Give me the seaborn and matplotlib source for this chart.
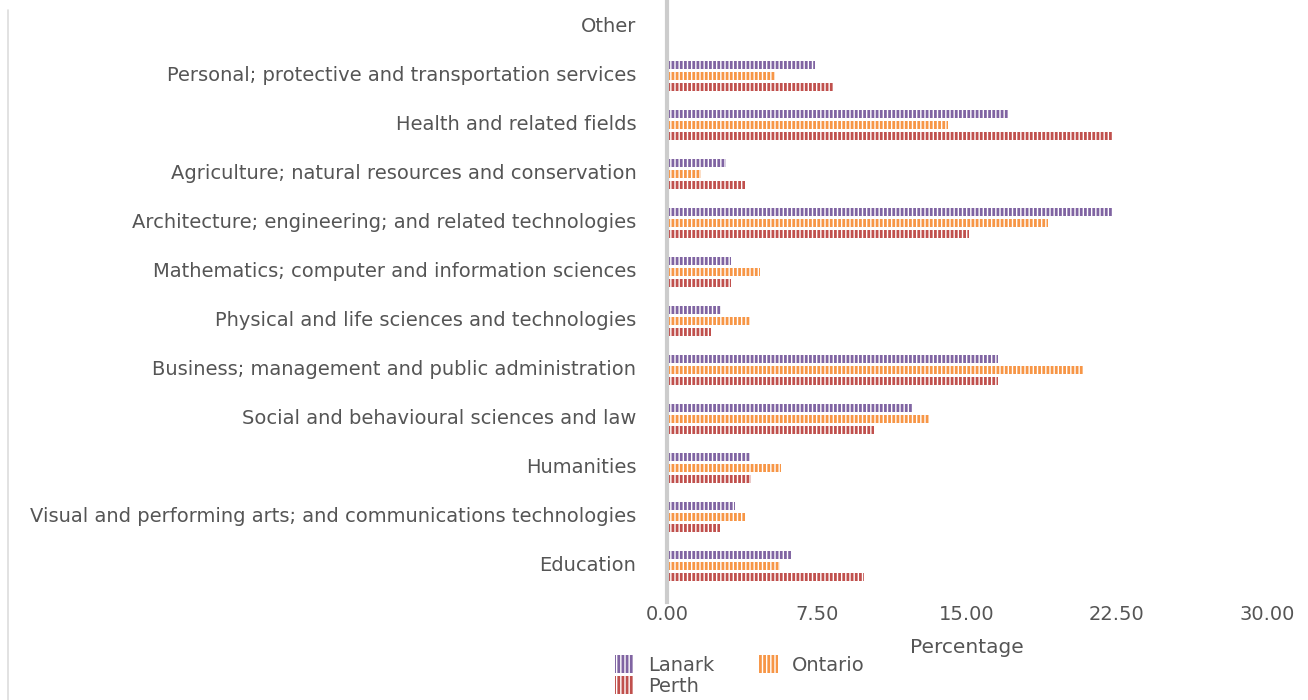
import numpy as np
import pandas as pd
import matplotlib
matplotlib.use("Agg")
import matplotlib.pyplot as plt
from matplotlib.patches import Patch
from matplotlib.lines import Line2D
import seaborn as sns

# Field of study shares (%)
categories = [
    "Other",
    "Personal; protective and transportation services",
    "Health and related fields",
    "Agriculture; natural resources and conservation",
    "Architecture; engineering; and related technologies",
    "Mathematics; computer and information sciences",
    "Physical and life sciences and technologies",
    "Business; management and public administration",
    "Social and behavioural sciences and law",
    "Humanities",
    "Visual and performing arts; and communications technologies",
    "Education",
]
regions = ["Lanark", "Ontario", "Perth"]
lanark = [0, 7.4, 17.1, 2.95, 22.3, 3.2, 2.7, 16.55, 12.3, 4.15, 3.4, 6.2]
ontario = [0, 5.4, 14.05, 1.7, 19.05, 4.65, 4.15, 20.8, 13.1, 5.7, 3.9, 5.65]
perth = [0, 8.35, 22.25, 3.9, 15.1, 3.2, 2.2, 16.55, 10.35, 4.2, 2.65, 9.85]
xticks = [0, 7.5, 15, 22.5, 30]

colors = {"Lanark": "#8064A2", "Ontario": "#F79646", "Perth": "#C0504D"}
text_color = "#555555"
hatch = "||||"

df = pd.DataFrame({
    "field": categories * 3,
    "region": [r for r in regions for _ in categories],
    "pct": lanark + ontario + perth,
})

sns.set_style("white")
plt.rcParams["font.family"] = ["DejaVu Sans"]
plt.rcParams["hatch.linewidth"] = 2.0

fig = plt.figure(figsize=(13.08, 7.0), dpi=100)
ax = fig.add_axes([667 / 1308, 1 - 598 / 700, 600 / 1308, 598 / 700])

sns.barplot(data=df, y="field", x="pct", hue="region", order=categories,
            hue_order=regions, palette=colors, saturation=1, orient="h",
            width=0.67, gap=0.27, legend=False, ax=ax)

# striped fill: coloured vertical hatch on white
for bar in ax.patches:
    c = bar.get_facecolor()
    bar.set_facecolor("white")
    bar.set_edgecolor(c)
    bar.set_hatch(hatch)
    bar.set_linewidth(0)

ax.set_xlim(0, 30)
ax.set_ylim(11.65, -0.55)
# labels sit a touch above the centre of each bar group
ax.set_yticks(np.arange(len(categories)) - 0.05)
ax.set_yticklabels(categories)
ax.set_xticks(xticks)
ax.set_xticklabels([f"{t:.2f}" for t in xticks])
ax.set_ylabel("")
ax.set_xlabel("Percentage", color=text_color, fontsize=14.5, labelpad=10)
ax.tick_params(axis="y", length=0, pad=22, labelsize=14, labelcolor=text_color)
ax.tick_params(axis="x", length=0, pad=5, labelsize=14, labelcolor=text_color)
for side in ["top", "right", "bottom"]:
    ax.spines[side].set_visible(False)
ax.spines["left"].set_color("#cccccc")
ax.spines["left"].set_linewidth(3)
ax.spines["left"].set_bounds(11.73, -0.55)

# thin frame line at the far left
fig.add_artist(Line2D([8 / 1308, 8 / 1308], [0, 1 - 10 / 700],
                      color="#dddddd", linewidth=1.2))

handles = [Patch(facecolor="white", edgecolor=colors[r], hatch=hatch,
                 linewidth=0, label=r) for r in regions]
# reorder so the legend fills row by row: Lanark, Ontario / Perth
order = [0, 2, 1]
fig.legend([handles[i] for i in order], [regions[i] for i in order],
           loc="upper left", bbox_to_anchor=(605 / 1308, 1 - 645 / 700),
           ncol=2, frameon=False, fontsize=14, labelcolor=text_color,
           handlelength=1.0, handleheight=1.1, handletextpad=0.7,
           columnspacing=2.3, labelspacing=0.05, borderpad=0)

fig.savefig("out.png", dpi=100)
